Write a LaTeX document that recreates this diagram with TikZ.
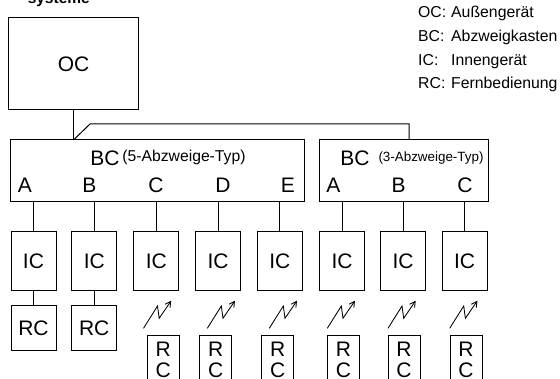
\documentclass[tikz,border=0pt]{standalone}
\usepackage{fontspec}
\setmainfont{Liberation Sans}
\usetikzlibrary{arrows.meta}
\tikzset{
  x=1pt,y=-1pt,
  unit/.style={draw,inner sep=0pt,outer sep=0pt,line width=1pt,font=\fontsize{21}{21}\selectfont},
  ocbox/.style={unit,minimum width=130pt,minimum height=92pt},
  bcone/.style={unit,minimum width=294pt,minimum height=61.5pt},
  bctwo/.style={unit,minimum width=169pt,minimum height=61.5pt},
  icbox/.style={unit,minimum width=45pt,minimum height=59pt},
  rcbox/.style={unit,minimum width=45pt,minimum height=45pt},
  rcsmall/.style={unit,minimum width=32pt,minimum height=60pt},
  big/.style={inner sep=0pt,anchor=base,font=\fontsize{21}{21}\selectfont},
  wire/.style={line width=1pt},
  radio/.style={line width=.85pt,-{Straight Barb[length=5.5pt,width=6pt,line width=.85pt]}},
  legend/.style={inner sep=0pt,anchor=base west,font=\fontsize{15.8}{15.8}\selectfont},
}
\begin{document}
\begin{tikzpicture}
\useasboundingbox (0,0) rectangle (560,379);
\clip (0,0) rectangle (560,379);
\node[inner sep=0pt,anchor=base east,font=\fontsize{15.5}{15.5}\selectfont\bfseries] (title) at (90,3.5) {systeme};
\node[ocbox] (oc) at (73.5,64) {OC};
\node[bcone] (bc1) at (157,170.75) {};
\node[bctwo] (bc2) at (403.5,170.75) {};
\node[big] (bc1t) at (105,165.7) {BC};
\node[big] (bc2t) at (355,165.7) {BC};
\node[inner sep=0pt,anchor=base,font=\fontsize{15.7}{15.7}\selectfont] (bc1s) at (184,162) {(5-Abzweige-Typ)};
\node[inner sep=0pt,anchor=base,font=\fontsize{13.4}{13.4}\selectfont] (bc2s) at (431,162) {(3-Abzweige-Typ)};
\foreach \n/\t/\x in {a/A/25,b/B/89.5,c/C/156,d/D/223,e/E/288,f/A/333.5,g/B/398.5,h/C/465}
  \node[big] (lab\n) at (\x,192.5) {\t};
\foreach \n/\x in {a/33.5,b/94.25,c/156.25,d/218,e/279.75,f/342,g/403,h/464.5}
  \node[icbox] (ic\n) at (\x,261.5) {IC};
\node[rcbox] (rca) at (33.5,328.5) {RC};
\node[rcbox] (rcb) at (94.25,328.5) {RC};
\foreach \n/\x in {c/163.25,d/215.75,e/277.75,f/343.5,g/404,h/466}{
  \node[rcsmall] (rc\n) at (\x,366) {};
  \node[big] (rc\n R) at (\x,356.7) {R};
  \node[big] (rc\n C) at (\x,377.3) {C};
}
\foreach \n/\b in {a/bc1,b/bc1,c/bc1,d/bc1,e/bc1,f/bc2,g/bc2,h/bc2}
  \draw[wire] (ic\n.north) -- (ic\n.north |- \b.south);
\draw[wire] (ica.south) -- (rca.north);
\draw[wire] (icb.south) -- (rcb.north);
\coordinate (fork) at (oc.south |- bc1.north);
\coordinate (feedtop) at (90,124);
\coordinate (feed) at (409,140);
\draw[wire] (oc.south) -- (fork);
\draw[wire] (fork) -- (feedtop) -| (feed);
\foreach \n/\x in {c/143.5,d/207.3,e/269.3,f/327.3,g/388,h/449.7}{
  \coordinate (z\n) at (\x,328.3);
  \draw[radio] (z\n) -- ++(14,-22.3) -- ++(1.7,12.3) -- ++(12,-17.6);
}
\node[legend] (l1) at (418,18) {OC:};
\node[legend] (l1t) at (451,18) {Außengerät};
\node[legend] (l2) at (418,42) {BC:};
\node[legend] (l2t) at (451,42) {Abzweigkasten};
\node[legend] (l3) at (418,66) {IC:};
\node[legend] (l3t) at (451,66) {Innengerät};
\node[legend] (l4) at (418,89) {RC:};
\node[legend] (l4t) at (451,89) {Fernbedienung};
\end{tikzpicture}
\end{document}
